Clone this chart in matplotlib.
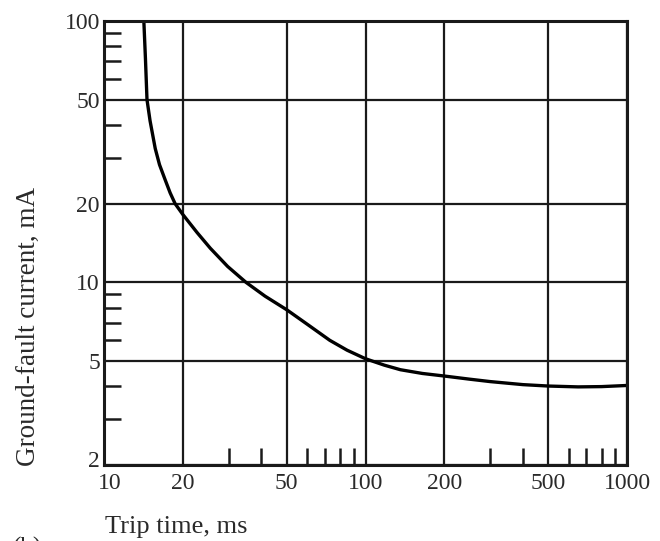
import matplotlib
matplotlib.use("Agg")
import matplotlib.pyplot as plt
import matplotlib.transforms as mtransforms
from matplotlib.ticker import FixedLocator, NullFormatter

# trip curve (ms, mA)
trip_ms = [14.2, 14.4, 14.6, 15.0, 15.7, 16.3, 17.1, 17.9, 18.7, 20.0, 22.7,
           25.5, 29.7, 34.9, 41.3, 50.0, 60.0, 73.0, 85.0, 100.0, 118.0,
           136.0, 165.0, 200.0, 250.0, 300.0, 400.0, 500.0, 650.0, 800.0,
           1000.0]
current_ma = [100.0, 72.0, 50.0, 41.5, 32.5, 28.2, 24.8, 22.0, 20.0, 18.2, 15.5,
              13.5, 11.5, 10.0, 8.85, 7.85, 6.9, 6.0, 5.5, 5.1, 4.82,
              4.63, 4.48, 4.38, 4.26, 4.17, 4.06, 4.01, 3.98, 3.99,
              4.03]

x_major = [10, 20, 50, 100, 200, 500, 1000]
y_major = [2, 5, 10, 20, 50, 100]
x_minor = [30, 40, 60, 70, 80, 90, 300, 400, 600, 700, 800, 900]
y_minor = [3, 4, 6, 7, 8, 9, 30, 40, 60, 70, 80, 90]

INK = "#1a1a1a"
TXT = "#2a2a2a"

plt.rcParams.update({
    "font.family": ["Liberation Serif", "DejaVu Serif"],
    "font.size": 17,
})

fig = plt.figure(figsize=(6.6, 5.41), dpi=100)
ax = fig.add_axes([0.1576, 0.1405, 0.7924, 0.8207])

ax.set_xscale("log")
ax.set_yscale("log")
ax.set_xlim(10, 1000)
ax.set_ylim(2, 100)

ax.xaxis.set_major_locator(FixedLocator(x_major))
ax.yaxis.set_major_locator(FixedLocator(y_major))
ax.set_xticklabels([str(v) for v in x_major])
ax.set_yticklabels([str(v) for v in y_major])
ax.xaxis.set_minor_locator(FixedLocator(x_minor))
ax.yaxis.set_minor_locator(FixedLocator(y_minor))
ax.xaxis.set_minor_formatter(NullFormatter())
ax.yaxis.set_minor_formatter(NullFormatter())

ax.grid(True, which="major", color=INK, linewidth=1.6)
ax.tick_params(which="major", length=0, labelsize=17, colors=TXT)
ax.tick_params(axis="y", which="major", pad=3)
ax.tick_params(axis="x", which="major", pad=6)
ax.tick_params(which="minor", direction="in", length=12, width=1.8, color=INK)
for s in ax.spines.values():
    s.set_linewidth(2.2)
    s.set_color(INK)

# corner labels: nudge "2" up and "10" right so they don't collide
ylab0 = ax.get_yticklabels()[0]
ylab0.set_transform(ylab0.get_transform() +
                    mtransforms.ScaledTranslation(0, 0.06, fig.dpi_scale_trans))
xlab0 = ax.get_xticklabels()[0]
xlab0.set_transform(xlab0.get_transform() +
                    mtransforms.ScaledTranslation(0.06, 0, fig.dpi_scale_trans))

ax.plot(trip_ms, current_ma, color="black", linewidth=2.4)

fig.text(0.043, 0.397, "Ground-fault current, mA", rotation=90,
         ha="center", va="center", fontsize=19.5, color=TXT)
fig.text(0.159, 0.026, "Trip time, ms", ha="left", va="center",
         fontsize=19, color=TXT)
fig.text(0.02, 0.008, "(b)", ha="left", va="top", fontsize=18, color=TXT)

fig.savefig("out.png", dpi=100, facecolor="white")
